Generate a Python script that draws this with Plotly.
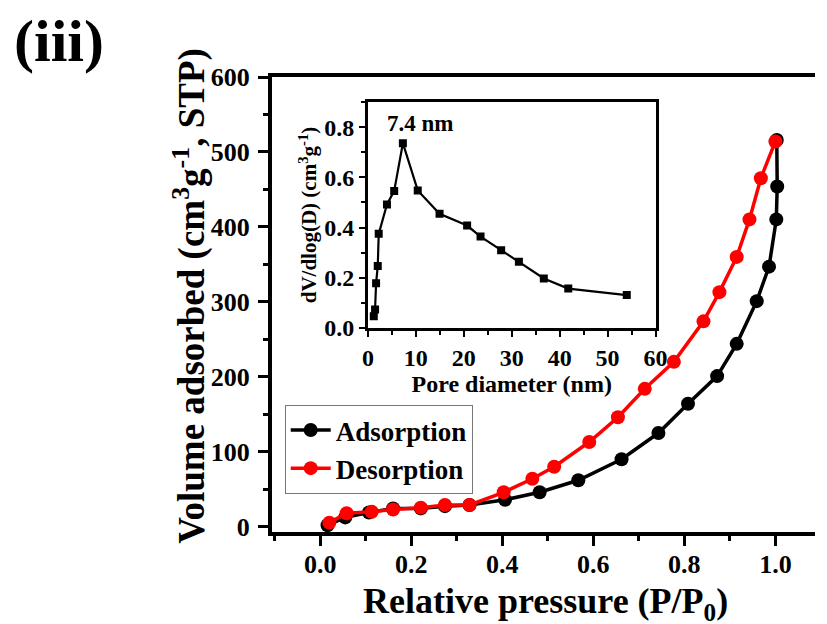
import plotly.graph_objects as go

# Main isotherm data
ads_p = [0.016, 0.055, 0.107, 0.160, 0.221, 0.274, 0.328, 0.406, 0.482, 0.567,
         0.662, 0.743, 0.808, 0.872, 0.915, 0.959, 0.986, 1.002, 1.004, 1.003]
ads_v = [2, 12.5, 19, 24.5, 24.5, 27.5, 29, 36, 46, 62,
         90, 125, 164, 201, 244, 301, 347, 410, 454, 516]
des_p = [1.000, 0.968, 0.943, 0.915, 0.877, 0.842, 0.777, 0.713, 0.654, 0.591,
         0.514, 0.466, 0.403, 0.328, 0.274, 0.221, 0.160, 0.113, 0.058, 0.020]
des_v = [514, 465, 410, 360, 313, 274, 220, 184, 146, 113,
         80, 64, 46, 29, 29, 25.5, 23, 20, 18, 5.5]

# Inset pore size distribution
pore_d = [1.23, 1.5, 1.71, 2.06, 2.26, 3.98, 5.49, 7.3, 10.4, 14.95,
          20.7, 23.5, 27.8, 31.5, 36.7, 41.8, 54.0]
pore_v = [0.047, 0.074, 0.178, 0.247, 0.375, 0.492, 0.546, 0.736, 0.548, 0.455,
          0.408, 0.364, 0.31, 0.264, 0.197, 0.157, 0.131]

FONT = "Liberation Serif"

def f(size):
    return dict(family=FONT, size=size, color="black", weight="bold")

fig = go.Figure()
fig.add_trace(go.Scatter(x=ads_p, y=ads_v, mode="lines+markers", name="Adsorption",
                         line=dict(color="black", width=3.5),
                         marker=dict(color="black", size=14, symbol="circle")))
fig.add_trace(go.Scatter(x=des_p, y=des_v, mode="lines+markers", name="Desorption",
                         line=dict(color="#ff0000", width=3.5),
                         marker=dict(color="#ff0000", size=14, symbol="circle")))
fig.add_trace(go.Scatter(x=pore_d, y=pore_v, mode="lines+markers", showlegend=False,
                         xaxis="x2", yaxis="y2",
                         line=dict(color="black", width=2.2),
                         marker=dict(color="black", size=8, symbol="square")))

W, H = 827, 624
L, R, T, B = 272, 0, 77, 92
pw, ph = W - L - R, H - T - B

def px(x):
    return (x - L) / pw

def py(y):
    return (H - B - y) / ph

fig.update_layout(
    width=W, height=H,
    margin=dict(l=L, r=R, t=T, b=B),
    paper_bgcolor="white", plot_bgcolor="white",
    font=dict(family=FONT, color="black"),
    xaxis=dict(range=[-0.106, 1.087], showgrid=False, zeroline=False,
               showline=True, linecolor="black", linewidth=4, mirror=True,
               ticks="outside", ticklen=10, tickwidth=3, tickcolor="black",
               tick0=0, dtick=0.2, tickformat=".1f", ticklabelstandoff=-4,
               minor=dict(ticks="outside", ticklen=5, tickwidth=3, dtick=0.1, tick0=0, tickcolor="black"),
               tickfont=f(26)),
    yaxis=dict(range=[-7, 600], showgrid=False, zeroline=False,
               showline=True, linecolor="black", linewidth=4, mirror=False,
               ticks="outside", ticklen=10, tickwidth=3, tickcolor="black",
               tick0=0, dtick=100, ticklabelstandoff=3,
               minor=dict(ticks="outside", ticklen=5, tickwidth=3, dtick=50, tick0=0, tickcolor="black"),
               tickfont=f(26)),
    xaxis2=dict(domain=[px(370), px(664)], anchor="y2", range=[0, 60],
                showgrid=False, zeroline=False, showline=True, linecolor="black",
                linewidth=2.5, mirror=True, ticks="outside", ticklen=6, tickwidth=2,
                tickcolor="black", dtick=10, tick0=0,
                minor=dict(ticks="outside", ticklen=4, tickwidth=2, dtick=5, tick0=0, tickcolor="black"),
                tickfont=f(24),
                title=dict(text="Pore diameter (nm)", font=f(24), standoff=0)),
    yaxis2=dict(domain=[py(328), py(102)], anchor="x2", range=[0, 0.9],
                showgrid=False, zeroline=False, showline=True, linecolor="black",
                linewidth=2.5, mirror=True, ticks="outside", ticklen=6, tickwidth=2,
                tickcolor="black", dtick=0.2, tick0=0, tickformat=".1f",
                minor=dict(ticks="outside", ticklen=4, tickwidth=2, dtick=0.1, tick0=0, tickcolor="black"),
                tickfont=f(24),
                title=dict(text="dV/dlog(D) (cm<sup>3</sup>g<sup>-1</sup>)", font=f(21), standoff=2)),
    legend=dict(x=px(285), y=py(405), xanchor="left", yanchor="top",
                bgcolor="white", bordercolor="#777777", borderwidth=1,
                font=f(27), tracegroupgap=0, itemwidth=40),
    showlegend=True,
)

annotations = [
    dict(text="(iii)", x=px(6), y=py(41), xref="paper", yref="paper",
         xanchor="left", yanchor="middle", showarrow=False, font=f(60)),
    dict(text="Volume adsorbed (cm<sup>3</sup>g<sup>-1</sup>, STP)", x=px(188), y=py(296),
         xref="paper", yref="paper", xanchor="center", yanchor="middle", textangle=-90,
         showarrow=False, font=f(37)),
    dict(text="Relative pressure (P/P<sub>0</sub>)", x=px(552), y=py(603),
         xref="paper", yref="paper", xanchor="center", yanchor="middle",
         showarrow=False, font=f(36)),
    dict(text="7.4 nm", x=10.8, y=0.815, xref="x2", yref="y2",
         xanchor="center", yanchor="middle", showarrow=False, font=f(23)),
]
fig.update_layout(annotations=annotations)

fig.write_html("out.html")
